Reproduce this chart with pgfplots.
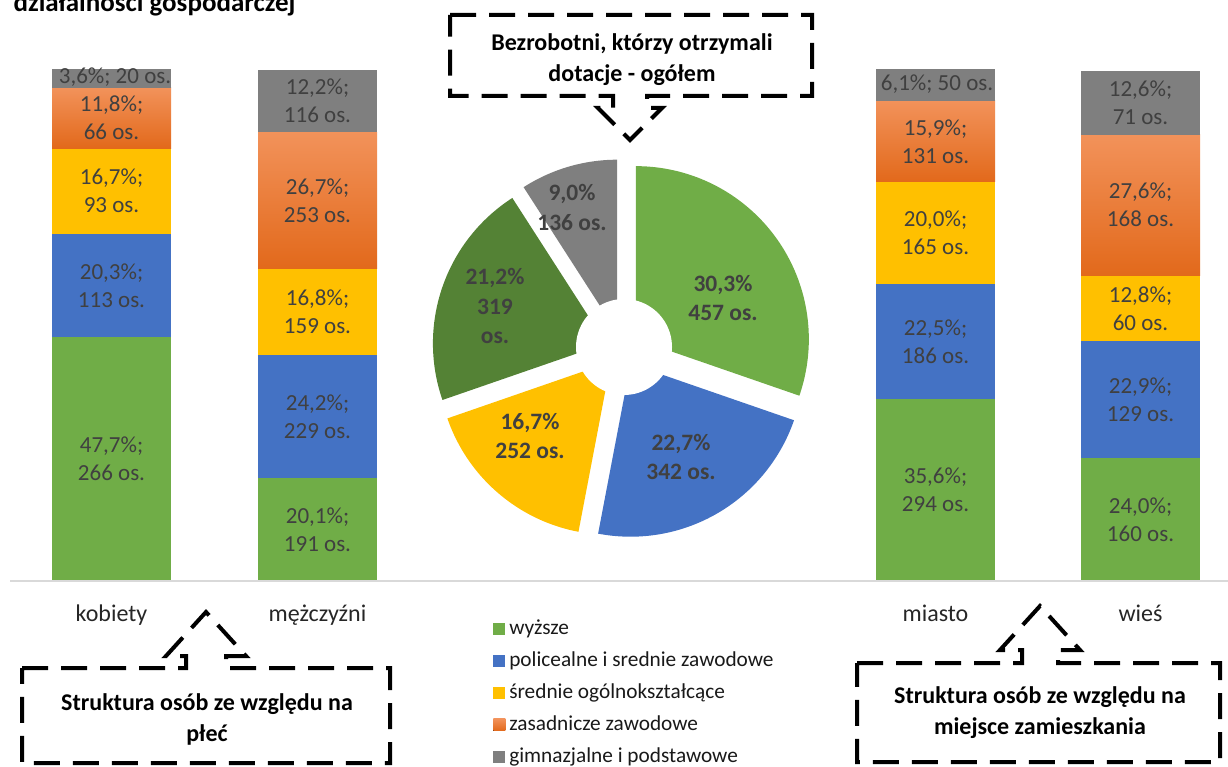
\documentclass[border=0pt]{standalone}
\usepackage{pgfplots}
\pgfplotsset{compat=1.18}
\usepackage{fontspec}
\setmainfont{Carlito}
\definecolor{cGreen}{HTML}{70AD47}
\definecolor{cBlue}{HTML}{4472C4}
\definecolor{cYellow}{HTML}{FFC000}
\definecolor{cOrTop}{HTML}{F2925A}
\definecolor{cOrBot}{HTML}{E2691B}
\definecolor{cGray}{HTML}{7F7F7F}
\definecolor{cDark}{HTML}{548235}
\definecolor{cLab}{HTML}{404040}
\tikzset{
  bl/.style={font=\fontsize{23}{28}\selectfont, text=cLab, align=center},
  pl/.style={font=\bfseries\fontsize{23.5}{29.5}\selectfont, text=cLab, align=center},
  cl/.style={font=\fontsize{24}{28}\selectfont, text=black!85, anchor=base},
  co/.style={font=\bfseries\fontsize{24}{31}\selectfont, align=center},
  dsh/.style={line width=4pt, dash pattern=on 26pt off 13pt, line join=miter}}
\begin{document}
\begin{tikzpicture}[x=1pt,y=1pt]
\useasboundingbox (0,0) rectangle (1228,-767);
\clip (0,0) rectangle (1228,-767);

% one axis in picture units: 1 unit = 1 px; bar heights: 511 px = 100 %, baseline at y=-581
\begin{axis}[
  at={(0,-767)}, anchor=south west,
  scale only axis, width=1228pt, height=767pt,
  xmin=0, xmax=1228, ymin=-767, ymax=0,
  hide axis, clip=false, enlargelimits=false,
  legend image code/.code={\fill[#1] (0pt,-6pt) rectangle (12pt,6pt);},
  legend cell align=left,
  legend style={at={(0.4015,0.1949)}, anchor=north west, draw=none, fill=none,
    font=\fontsize{21.3}{25}\selectfont, text=black!90, row sep=10pt, column sep=3pt, inner sep=0pt,
    nodes={inner sep=1pt, text height=15.5pt, text depth=4.5pt}},
]
% ----- stacked bars: kobiety (52-171), mezczyzni (258-377), miasto (876-995), wies (1081-1200)
% wyzsze
\addplot[fill=cGreen, draw=none] coordinates {(52,-581) (171,-581) (171,-337.25) (52,-337.25)} -- cycle;
% policealne
\addplot[fill=cBlue, draw=none] coordinates {(52,-337.25) (171,-337.25) (171,-233.52) (52,-233.52)} -- cycle;
% srednie ogolnoksztalcace
\addplot[fill=cYellow, draw=none] coordinates {(52,-233.52) (171,-233.52) (171,-148.18) (52,-148.18)} -- cycle;
% zasadnicze
\addplot[top color=cOrTop, bottom color=cOrBot, draw=none] coordinates {(52,-148.18) (171,-148.18) (171,-87.89) (52,-87.89)} -- cycle;
% gimnazjalne
\addplot[fill=cGray, draw=none] coordinates {(52,-87.89) (171,-87.89) (171,-69.49) (52,-69.49)} -- cycle;
\legend{wyższe, policealne i srednie zawodowe, średnie ogólnokształcące, zasadnicze zawodowe, gimnazjalne i podstawowe}

\addplot[forget plot, fill=cGreen, draw=none] coordinates {(258,-581) (377,-581) (377,-478.29) (258,-478.29)} -- cycle;
\addplot[forget plot, fill=cBlue, draw=none] coordinates {(258,-478.29) (377,-478.29) (377,-354.63) (258,-354.63)} -- cycle;
\addplot[forget plot, fill=cYellow, draw=none] coordinates {(258,-354.63) (377,-354.63) (377,-268.78) (258,-268.78)} -- cycle;
\addplot[forget plot, top color=cOrTop, bottom color=cOrBot, draw=none] coordinates {(258,-268.78) (377,-268.78) (377,-132.34) (258,-132.34)} -- cycle;
\addplot[forget plot, fill=cGray, draw=none] coordinates {(258,-132.34) (377,-132.34) (377,-70) (258,-70)} -- cycle;

\addplot[forget plot, fill=cGreen, draw=none] coordinates {(876,-581) (995,-581) (995,-399.08) (876,-399.08)} -- cycle;
\addplot[forget plot, fill=cBlue, draw=none] coordinates {(876,-399.08) (995,-399.08) (995,-284.11) (876,-284.11)} -- cycle;
\addplot[forget plot, fill=cYellow, draw=none] coordinates {(876,-284.11) (995,-284.11) (995,-181.91) (876,-181.91)} -- cycle;
\addplot[forget plot, top color=cOrTop, bottom color=cOrBot, draw=none] coordinates {(876,-181.91) (995,-181.91) (995,-100.66) (876,-100.66)} -- cycle;
\addplot[forget plot, fill=cGray, draw=none] coordinates {(876,-100.66) (995,-100.66) (995,-69.49) (876,-69.49)} -- cycle;

\addplot[forget plot, fill=cGreen, draw=none] coordinates {(1081,-581) (1200,-581) (1200,-458.36) (1081,-458.36)} -- cycle;
\addplot[forget plot, fill=cBlue, draw=none] coordinates {(1081,-458.36) (1200,-458.36) (1200,-341.34) (1081,-341.34)} -- cycle;
\addplot[forget plot, fill=cYellow, draw=none] coordinates {(1081,-341.34) (1200,-341.34) (1200,-275.93) (1081,-275.93)} -- cycle;
\addplot[forget plot, top color=cOrTop, bottom color=cOrBot, draw=none] coordinates {(1081,-275.93) (1200,-275.93) (1200,-134.90) (1081,-134.90)} -- cycle;
\addplot[forget plot, fill=cGray, draw=none] coordinates {(1081,-134.90) (1200,-134.90) (1200,-70.51) (1081,-70.51)} -- cycle;

% baseline
\addplot[forget plot, draw=black!15, line width=2pt] coordinates {(10,-581) (1228,-581)};

% bar labels (middle of each segment)
\node[bl] at (axis cs:111.5,-459.13) {47,7\%;\\266 os.};
\node[bl] at (axis cs:111.5,-285.39) {20,3\%;\\113 os.};
\node[bl] at (axis cs:111.5,-190.85) {16,7\%;\\93 os.};
\node[bl] at (axis cs:111.5,-118.03) {11,8\%;\\66 os.};
\node[bl] at (axis cs:115,-77.15)    {3,6\%; 20 os.};
\node[bl] at (axis cs:317.5,-529.64) {20,1\%;\\191 os.};
\node[bl] at (axis cs:317.5,-416.46) {24,2\%;\\229 os.};
\node[bl] at (axis cs:317.5,-311.70) {16,8\%;\\159 os.};
\node[bl] at (axis cs:317.5,-200.56) {26,7\%;\\253 os.};
\node[bl] at (axis cs:317.5,-101.17) {12,2\%;\\116 os.};
\node[bl] at (axis cs:935.5,-490.04) {35,6\%;\\294 os.};
\node[bl] at (axis cs:935.5,-341.60) {22,5\%;\\186 os.};
\node[bl] at (axis cs:935.5,-233.01) {20,0\%;\\165 os.};
\node[bl] at (axis cs:935.5,-141.28) {15,9\%;\\131 os.};
\node[bl] at (axis cs:937,-83.80)    {6,1\%; 50 os.};
\node[bl] at (axis cs:1140.5,-519.68) {24,0\%;\\160 os.};
\node[bl] at (axis cs:1140.5,-399.85) {22,9\%;\\129 os.};
\node[bl] at (axis cs:1140.5,-308.64) {12,8\%;\\60 os.};
\node[bl] at (axis cs:1140.5,-204.90) {27,6\%;\\168 os.};
\node[bl] at (axis cs:1140.5,-102.70) {12,6\%;\\71 os.};

% category names
\node[cl] at (axis cs:111.5,-621) {kobiety};
\node[cl] at (axis cs:317.5,-621) {mężczyźni};
\node[cl] at (axis cs:935.5,-621) {miasto};
\node[cl] at (axis cs:1140.5,-621) {wieś};

% ----- exploded pie (30.3, 22.7, 16.7, 21.2, 9.0 %), clockwise from 12 o'clock
\addplot[forget plot, fill=cGreen, draw=none, domain=-19.08:90, samples=90, variable=\t]
  ({635.85+173*cos(\t)},{-339.14+173*sin(\t)}) -- (axis cs:635.85,-339.14) -- cycle;
\addplot[forget plot, fill=cBlue, draw=none, domain=-100.8:-19.08, samples=80, variable=\t]
  ({630.52+173*cos(\t)},{-363.71+173*sin(\t)}) -- (axis cs:630.52,-363.71) -- cycle;
\addplot[forget plot, fill=cYellow, draw=none, domain=-160.92:-100.8, samples=70, variable=\t]
  ({610.89+173*cos(\t)},{-361.86+173*sin(\t)}) -- (axis cs:610.89,-361.86) -- cycle;
\addplot[forget plot, fill=cDark, draw=none, domain=-237.24:-160.92, samples=80, variable=\t]
  ({605.93+173*cos(\t)},{-343.44+173*sin(\t)}) -- (axis cs:605.93,-343.44) -- cycle;
\addplot[forget plot, fill=cGray, draw=none, domain=-270:-237.24, samples=50, variable=\t]
  ({617.21+173*cos(\t)},{-332.69+173*sin(\t)}) -- (axis cs:617.21,-332.69) -- cycle;
\addplot[forget plot, fill=white, draw=none, domain=0:360, samples=100, variable=\t]
  ({624+48*cos(\t)},{-347+48*sin(\t)}) -- cycle;
\node[pl] at (axis cs:723,-298) {30,3\%\\457 os.};
\node[pl] at (axis cs:681,-457) {22,7\%\\342 os.};
\node[pl] at (axis cs:530,-436) {16,7\%\\252 os.};
\node[pl] at (axis cs:495,-306) {21,2\%\\319\\os.};
\node[pl] at (axis cs:572,-207.5) {9,0\%\\136 os.};
\end{axis}

% ---------- title and callouts ----------
\node[anchor=base west, font=\bfseries\fontsize{27}{30}\selectfont] at (10,-12) {działalności gospodarczej};

\draw[dsh] (450,-15) -- (812,-15) -- (812,-96) -- (647,-96) -- (647,-108) -- (662,-108) -- (630,-140)
  -- (598,-108) -- (613,-108) -- (613,-96) -- (450,-96) -- cycle;
\draw[dsh] (22,-668) -- (186,-668) -- (186,-656) -- (166,-656) -- (206,-612) -- (246,-656)
  -- (226,-656) -- (226,-668) -- (390,-668) -- (390,-763) -- (22,-763) -- cycle;
\draw[dsh] (857,-663) -- (1022,-663) -- (1022,-650) -- (1000,-650) -- (1040,-606) -- (1080,-650)
  -- (1058,-650) -- (1058,-663) -- (1220,-663) -- (1220,-762) -- (857,-762) -- cycle;
\node[co] at (632,-60) {Bezrobotni, którzy otrzymali\\dotacje - ogółem};
\node[co] at (207,-719) {Struktura osób ze względu na\\płeć};
\node[co] at (1040,-712.5) {Struktura osób ze względu na\\miejsce zamieszkania};
\end{tikzpicture}
\end{document}
